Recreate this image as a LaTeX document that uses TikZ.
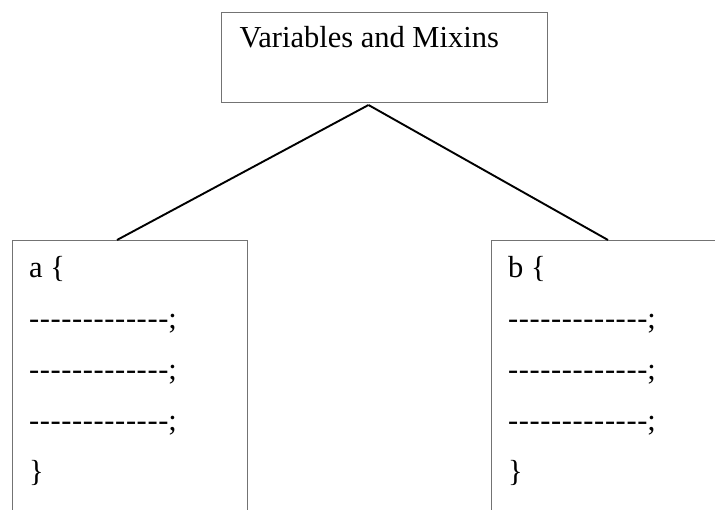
\documentclass[tikz,border=0pt]{standalone}
\usepackage{fontspec}
\setmainfont{Liberation Serif}
% one hyphen, kept apart so that no TeX ligature joins them
\newcommand\hy{\mbox{-}\kern0.6pt}
\newcommand\dashrow{\hy\hy\hy\hy\hy\hy\hy\hy\hy\hy\hy\hy\mbox{-};}
\begin{document}
\begin{tikzpicture}[x=1pt,y=-1pt,
  box/.style={draw=black!55, line width=1pt, inner sep=0pt, anchor=north west},
  wire/.style={draw=black, line width=1.9pt},
  txt/.style={anchor=base west, inner sep=0pt, font=\fontsize{30.5}{36}\selectfont}]
\useasboundingbox (0,0) rectangle (715,510);
\clip (0,0) rectangle (715,510);

% boxes
\node[box, minimum width=326pt, minimum height=90pt] (top) at (221,12) {};
\node[box, minimum width=235pt, minimum height=300pt] (left) at (12,240) {};
\node[box, minimum width=240pt, minimum height=300pt] (right) at (491,240) {};

% connectors
\draw[wire] ([shift={(-16pt,-2pt)}]top.south) -- ([xshift=105pt]left.north west);
\draw[wire] ([shift={(-16pt,-2pt)}]top.south) -- ([xshift=117pt]right.north west);

% title
\node[txt] (title) at (239.5,48) {Variables and Mixins};

% left block
\node[txt] (a0) at (29,278) {a \{};
\node[txt] (a1) at (29,329) {\dashrow};
\node[txt] (a2) at (29,380) {\dashrow};
\node[txt] (a3) at (29,431) {\dashrow};
\node[txt] (a4) at (29,482) {\}};

% right block
\node[txt] (b0) at (508,278) {b \{};
\node[txt] (b1) at (508,329) {\dashrow};
\node[txt] (b2) at (508,380) {\dashrow};
\node[txt] (b3) at (508,431) {\dashrow};
\node[txt] (b4) at (508,482) {\}};
\end{tikzpicture}
\end{document}
